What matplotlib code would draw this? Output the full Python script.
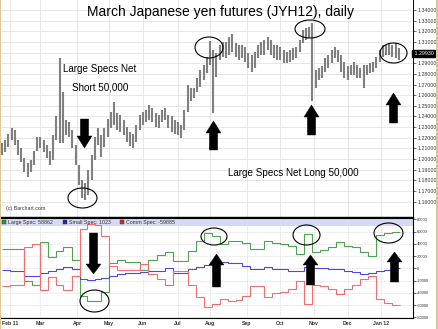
import matplotlib
matplotlib.use('Agg')
import matplotlib.pyplot as plt
from matplotlib.patches import Ellipse, Polygon, Rectangle
import matplotlib.transforms as mtransforms

plt.rcParams['font.family'] = ['Liberation Sans', 'DejaVu Sans']

# ---------------- data ----------------
# price bars (each bar = 2 trading days), x = trading-day index from Feb 1 2011
bar_day = list(range(-5, 245, 2))
bar_high = [1.215, 1.218, 1.224, 1.229, 1.227, 1.218, 1.210, 1.201, 1.196, 1.199,
            1.208, 1.221, 1.221, 1.218, 1.213, 1.208, 1.223, 1.240, 1.295, 1.263,
            1.237, 1.235, 1.227, 1.213, 1.194, 1.180, 1.178, 1.190, 1.204, 1.221,
            1.229, 1.223, 1.229, 1.238, 1.244, 1.254, 1.243, 1.241, 1.237, 1.230,
            1.225, 1.224, 1.232, 1.241, 1.244, 1.246, 1.251, 1.248, 1.243, 1.241,
            1.246, 1.248, 1.241, 1.240, 1.237, 1.235, 1.232, 1.246, 1.270, 1.267,
            1.267, 1.276, 1.284, 1.288, 1.296, 1.311, 1.302, 1.300, 1.307, 1.310,
            1.310, 1.315, 1.317, 1.309, 1.307, 1.307, 1.305, 1.300, 1.298, 1.301,
            1.307, 1.310, 1.312, 1.315, 1.312, 1.307, 1.307, 1.305, 1.302, 1.301,
            1.302, 1.304, 1.305, 1.312, 1.321, 1.323, 1.324, 1.328, 1.284, 1.286,
            1.287, 1.295, 1.298, 1.302, 1.305, 1.302, 1.298, 1.291, 1.287, 1.288,
            1.291, 1.288, 1.286, 1.288, 1.288, 1.290, 1.291, 1.296, 1.302, 1.307,
            1.307, 1.309, 1.307, 1.309, 1.304]
bar_low = [1.204, 1.207, 1.211, 1.218, 1.213, 1.204, 1.197, 1.188, 1.183, 1.188,
           1.194, 1.208, 1.210, 1.207, 1.201, 1.194, 1.199, 1.218, 1.215, 1.215,
           1.223, 1.221, 1.210, 1.194, 1.176, 1.163, 1.162, 1.166, 1.180, 1.199,
           1.213, 1.202, 1.211, 1.221, 1.229, 1.232, 1.227, 1.225, 1.223, 1.216,
           1.212, 1.210, 1.216, 1.227, 1.232, 1.235, 1.237, 1.235, 1.230, 1.229,
           1.235, 1.237, 1.229, 1.225, 1.224, 1.223, 1.220, 1.227, 1.244, 1.255,
           1.257, 1.263, 1.268, 1.274, 1.281, 1.288, 1.243, 1.277, 1.293, 1.296,
           1.295, 1.298, 1.301, 1.296, 1.293, 1.295, 1.291, 1.286, 1.282, 1.286,
           1.295, 1.298, 1.298, 1.302, 1.298, 1.295, 1.293, 1.293, 1.290, 1.290,
           1.291, 1.293, 1.295, 1.301, 1.309, 1.312, 1.314, 1.255, 1.267, 1.274,
           1.276, 1.282, 1.286, 1.290, 1.295, 1.291, 1.282, 1.276, 1.274, 1.279,
           1.279, 1.276, 1.276, 1.267, 1.279, 1.281, 1.282, 1.286, 1.291, 1.296,
           1.298, 1.298, 1.296, 1.295, 1.293]
last_price = 1.29930

month_day = [0, 19, 42, 62, 83, 105, 125, 148, 169, 190, 211, 232]
month_labels = ['Feb 11', 'Mar', 'Apr', 'May', 'Jun', 'Jul', 'Aug', 'Sep', 'Oct', 'Nov', 'Dec', 'Jan 12']

price_ticks = [1.16, 1.17, 1.18, 1.19, 1.20, 1.21, 1.22, 1.23, 1.24, 1.25,
               1.26, 1.27, 1.28, 1.29, 1.30, 1.31, 1.32, 1.33, 1.34]
cot_ticks = [80000, 60000, 40000, 20000, 0, -20000, -40000, -60000, -80000]

# weekly COT net positions (step edges in trading-day index)
cot_edges = [-5, 0, 4, 9, 14, 19, 24, 29, 33, 39, 44, 48, 53, 57, 62, 67, 72, 77, 81, 86,
             92, 97, 102, 106, 111, 116, 121, 126, 131, 136, 141, 145, 150, 155, 159, 164,
             169, 174, 179, 184, 189, 194, 199, 204, 209, 214, 219, 224, 229, 234, 239, 244]
large_spec = [32000, 32000, 32000, -21000, -28000, 43000, 18000, 28000, 34000, 13000,
              -46000, -53000, -53000, -38000, 8000, 13000, 10000, 10000, -2000, 14000,
              22000, 27000, 12000, 12000, 29000, 45000, 58000, 52000, 40000, 45000,
              44000, 42000, 31000, 31000, 45000, 42000, 40000, 37000, 24000, 55500,
              27000, 29400, 35000, 43500, 37000, 34000, 27000, 20000, 54000, 58000, 58862]
small_spec = [-3500, -4500, -4500, -13000, -12000, -8000, -4500, -500, 1500, -500,
              -17500, -19500, -18000, -15500, -12500, -9500, -7300, -7000, -5500, -4500,
              -4500, 0, -8000, -8000, -1000, 2700, 5000, 6000, 10800, 8000,
              8000, 3000, -1500, -1500, 2700, -1100, -1100, -3800, -4000, 2700,
              0, 0, -1600, -1600, -3800, -6000, -9300, -7000, -4000, -2000, 1023]
comm_spec = [-28500, -27500, -27500, 34000, 40000, -35000, -13500, -27500, -35500, -12500,
             63500, 72500, 71000, 53500, 4500, -3500, -2700, -3000, 7500, -9500,
             -17500, -27000, -4000, -4000, -28000, -47700, -63000, -58000, -50800, -53000,
             -52000, -45000, -29500, -29500, -47700, -40900, -38900, -33200, -20000, -58200,
             -27000, -29400, -33400, -41900, -33200, -28000, -17700, -13000, -50000, -56000, -59885]

# ---------------- figure ----------------
W, H = 439, 329
fig = plt.figure(figsize=(W / 100, H / 100), dpi=100)
fig.patch.set_facecolor('white')

def fbox(x0, y0, x1, y1):
    return [x0 / W, 1 - y1 / H, (x1 - x0) / W, (y1 - y0) / H]

grid_c = '#e2e2e2'
XMIN, XMAX = -5.6, 251.9

# upper price panel
ax1 = fig.add_axes(fbox(1, 0, 413, 217))
ax1.vlines(bar_day, bar_low, bar_high, color='#808080', lw=1.5, zorder=3)
ax1.set_xlim(XMIN, XMAX)
ax1.set_ylim(1.1456, 1.3494)
ax1.set_yticks(price_ticks)
# the 1.30000 label is hidden under the last-price box
ax1.set_yticklabels(['' if abs(v - 1.30) < 1e-9 else '%.5f' % v for v in price_ticks])
ax1.yaxis.tick_right()
ax1.tick_params(axis='y', labelsize=3.8, length=2, width=0.5, colors='#333333', pad=1)
ax1.set_xticks(month_day)
ax1.tick_params(axis='x', length=0, labelbottom=False)
ax1.grid(True, color=grid_c, lw=0.6)
ax1.set_axisbelow(True)
for s in ['left', 'top']:
    ax1.spines[s].set_visible(False)
ax1.spines['right'].set_linewidth(0.7)
ax1.spines['bottom'].set_linewidth(1.0)
ax1.text(1.0, last_price, ' %.5f' % last_price,
         transform=mtransforms.blended_transform_factory(ax1.transAxes, ax1.transData),
         fontsize=3.8, color='white', va='center', ha='left',
         bbox=dict(boxstyle='square,pad=0.15', fc='black', ec='black'), zorder=6, clip_on=False)
ax1.text(0.012, 0.03, '(c) Barchart.com', transform=ax1.transAxes, fontsize=3.8, color='#333333')

# lower COT panel
ax2 = fig.add_axes(fbox(1, 218, 413, 318))
ax2.set_xlim(XMIN, XMAX)
ax2.set_ylim(-81200, 82100)
ax2.add_patch(Rectangle((0, 0.92), 1, 0.08, transform=ax2.transAxes, fc='#d6daf6', ec='none', zorder=1))
ax2.stairs(large_spec, cot_edges, baseline=None, color='#4fa24f', lw=0.8, zorder=3)
ax2.stairs(small_spec, cot_edges, baseline=None, color='#4b4bd8', lw=0.8, zorder=3)
ax2.stairs(comm_spec, cot_edges, baseline=None, color='#ef6f6f', lw=0.8, zorder=3)
ax2.set_yticks(cot_ticks)
ax2.set_yticklabels(['%d' % v for v in cot_ticks])
ax2.yaxis.tick_right()
ax2.tick_params(axis='y', labelsize=2.9, length=2, width=0.5, colors='#333333', pad=1)
ax2.set_xticks(month_day)
ax2.set_xticklabels(month_labels)
ax2.tick_params(axis='x', labelsize=3.7, length=0, pad=2, colors='#333333')
for lab in ax2.get_xticklabels():
    lab.set_fontweight('bold')
ax2.grid(True, color=grid_c, lw=0.6, ls=(0, (2, 1)))
ax2.set_axisbelow(True)
ax2.spines['left'].set_visible(False)
for s in ['top', 'right', 'bottom']:
    ax2.spines[s].set_linewidth(0.8)

legend_items = [('#2e9a2e', 'Large Spec: %d' % large_spec[-1], 2),
                ('#2424b0', 'Small Spec: %d' % small_spec[-1], 63),
                ('#dd2424', 'Comm Spec: %d' % comm_spec[-1], 120)]

# ---------------- overlay (annotations in pixel space) ----------------
ov = fig.add_axes([0, 0, 1, 1], zorder=10)
ov.set_xlim(0, W)
ov.set_ylim(H, 0)
ov.axis('off')
ov.patch.set_alpha(0)

for col, txt, x0 in legend_items:
    ov.add_patch(Rectangle((x0, 220), 4, 4, fc=col, ec='#333333', lw=0.3))
    ov.text(x0 + 6, 222.2, txt, fontsize=3.8, color='#333333', va='center', ha='left')

ov.text(221, 12, 'March Japanese yen futures (JYH12), daily', fontsize=10, ha='center', va='center', color='black')
ov.text(63, 69, 'Large Specs Net', fontsize=7.1, ha='left', va='center', color='black')
ov.text(72, 88, 'Short 50,000', fontsize=7.1, ha='left', va='center', color='black')
ov.text(228, 173, 'Large Specs Net Long 50,000', fontsize=7.1, ha='left', va='center', color='black')

def arrow(x0, x1, tip, base, end):
    cx = (x0 + x1) / 2.0
    sw = (x1 - x0) / 2.0 * 0.55
    pts = [(cx, tip), (x1, base), (cx + sw, base), (cx + sw, end),
           (cx - sw, end), (cx - sw, base), (x0, base)]
    ov.add_patch(Polygon(pts, closed=True, fc='black', ec='black', lw=0.3))

arrow(77, 92, 148, 136, 119)    # down, upper
arrow(206, 221, 121, 133, 150)  # up, Aug
arrow(304, 319, 105, 117, 135)  # up, Nov
arrow(386, 401, 93, 105, 123)   # up, Jan
arrow(86, 101, 274, 264, 233)   # down, lower
arrow(209, 224, 254, 265, 287)  # up, lower Aug
arrow(303, 318, 255, 265, 285)  # up, lower Nov
arrow(387, 402, 252, 262, 282)  # up, lower Jan

for cx, cy, w, h in [(82.5, 198, 29, 20), (209, 47.5, 28, 21), (310, 29, 30, 18),
                     (393.5, 53, 27, 20), (94.5, 301, 29, 22), (214, 236.5, 26, 17),
                     (306.5, 235, 27, 20), (388.5, 233, 29, 20)]:
    ov.add_patch(Ellipse((cx, cy), w, h, fill=False, ec='black', lw=0.8))

# tan frame edges
ov.add_patch(Rectangle((436, 0), 3, H, fc='#d9c99a', ec='none'))
ov.add_patch(Rectangle((0, 0), 1, H, fc='#d9c99a', ec='none'))

fig.savefig('out.png', dpi=100, facecolor='white')
